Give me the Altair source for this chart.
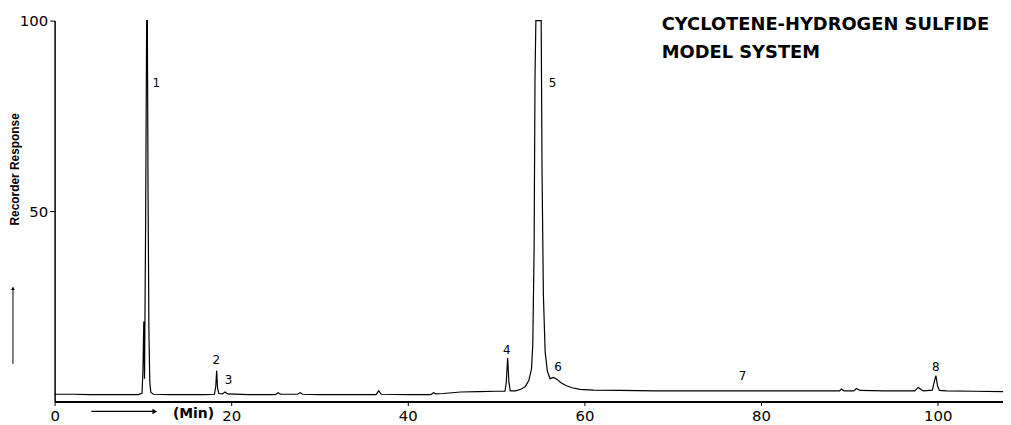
import altair as alt
import pandas as pd

# ---- chromatogram trace (retention time in min, recorder response) ----
time_min = [0.0, 2.0, 4.0, 6.0, 8.0, 9.5, 9.9, 10.0, 10.1, 10.18, 10.3, 10.42, 10.5, 10.58,
            10.68, 10.78, 10.9, 11.2, 13.0, 15.0, 17.0, 18.1, 18.25, 18.35, 18.45, 18.6,
            19.0, 19.3, 19.6, 22.0, 25.0, 25.3, 25.6, 27.5, 27.8, 28.1, 30.0, 33.0, 36.4,
            36.7, 37.0, 40.0, 42.6, 42.9, 43.2, 44.0, 46.0, 48.0, 50.0, 51.0, 51.15, 51.3,
            51.45, 51.6, 52.2, 52.8, 53.3, 53.7, 54.0, 54.15, 54.3, 54.4, 54.5, 55.1, 55.2,
            55.35, 55.55, 55.8, 56.1, 56.5, 56.9, 57.3, 57.9, 58.6, 59.5, 61.0, 64.0, 68.0,
            72.0, 76.0, 80.0, 85.0, 88.9, 89.1, 89.4, 90.5, 90.8, 91.2, 94.0, 97.4, 97.8,
            98.2, 98.4, 99.4, 99.6, 99.8, 100.0, 100.2, 101.0, 104.0, 107.4]
response = [1.9, 1.9, 1.8, 1.8, 1.8, 1.8, 2.2, 8.0, 21.0, 6.0, 45.0, 100.0, 100.0, 55.0,
            18.0, 5.0, 2.4, 1.9, 1.8, 1.8, 1.8, 1.9, 4.0, 8.1, 3.5, 2.1,
            2.0, 2.5, 2.0, 1.8, 1.8, 2.3, 1.9, 1.9, 2.3, 1.9, 1.8, 1.8, 1.8,
            2.8, 1.9, 1.8, 1.8, 2.3, 2.0, 2.1, 2.5, 2.6, 2.7, 2.7, 5.0, 11.5,
            5.0, 2.8, 2.8, 3.2, 3.9, 5.5, 8.5, 15.0, 40.0, 85.0, 100.0, 100.0, 60.0,
            28.0, 13.0, 8.0, 6.0, 6.3, 5.8, 5.0, 4.2, 3.6, 3.2, 3.0, 2.9, 2.8,
            2.8, 2.8, 2.8, 2.8, 2.8, 3.3, 2.8, 2.8, 3.4, 2.9, 2.8, 2.8, 3.7,
            3.0, 2.8, 3.0, 5.0, 6.8, 4.0, 2.9, 2.8, 2.7, 2.6]

# ---- peak numbers ----
peak_labels = ["1", "2", "3", "4", "5", "6", "7", "8"]
peak_label_time = [11.5, 18.3, 19.7, 51.2, 56.4, 57.0, 77.9, 99.8]
peak_label_resp = [83.6, 10.9, 5.7, 13.5, 83.6, 9.1, 6.8, 9.1]

# ---- axes / texts ----
x_tick_values = [0, 20, 40, 60, 80, 100]
y_tick_values = [50, 100]
title_lines = ["CYCLOTENE-HYDROGEN SULFIDE", "MODEL SYSTEM"]
y_title = "Recorder Response"
x_unit = "(Min)"

trace = pd.DataFrame({"t": time_min, "r": response})
labels = pd.DataFrame({"t": peak_label_time, "r": peak_label_resp, "label": peak_labels})
one = pd.DataFrame({"k": [0]})

x_scale = alt.Scale(domain=[0, 107.4], nice=False, zero=False)
y_scale = alt.Scale(domain=[0, 100], nice=False)

line = alt.Chart(trace).mark_line(color="black", strokeWidth=1.2).encode(
    x=alt.X("t:Q", scale=x_scale,
            axis=alt.Axis(values=x_tick_values, title=None, grid=False, labelFontSize=15,
                          labelFont="DejaVu Sans", labelColor="black", tickSize=4,
                          tickColor="black", domainColor="black", domainWidth=2,
                          labelPadding=3, labelFlush=False, format="d")),
    y=alt.Y("r:Q", scale=y_scale,
            axis=alt.Axis(values=y_tick_values, title=None, grid=False, labelFontSize=15,
                          labelFont="DejaVu Sans", labelColor="black", tickSize=5,
                          tickColor="black", domainColor="black", domainWidth=1.5,
                          labelPadding=2, format="d")),
)

peak_text = alt.Chart(labels).mark_text(fontSize=12, font="DejaVu Sans", color="black",
                                        align="center", baseline="middle").encode(
    x=alt.X("t:Q", scale=x_scale), y=alt.Y("r:Q", scale=y_scale), text="label:N")

title1 = alt.Chart(one).mark_text(fontSize=18, font="DejaVu Sans", fontWeight="bold",
                                  color="black", align="left", baseline="middle").encode(
    x=alt.value(612), y=alt.value(5), text=alt.value(title_lines[0]))
title2 = alt.Chart(one).mark_text(fontSize=18, font="DejaVu Sans", fontWeight="bold",
                                  color="black", align="left", baseline="middle").encode(
    x=alt.value(612), y=alt.value(33), text=alt.value(title_lines[1]))

ytitle = alt.Chart(one).mark_text(fontSize=12, font="Liberation Sans", fontWeight="bold",
                                  color="black", angle=270, align="center",
                                  baseline="middle").encode(
    x=alt.value(-40), y=alt.value(150), text=alt.value(y_title))

marker_bar = alt.Chart(one).mark_rule(color="black", strokeWidth=1).encode(
    x=alt.value(-42), y=alt.value(269), y2=alt.value(346))
marker_head = alt.Chart(one).mark_point(shape="triangle-up", filled=True, size=14,
                                        color="black", opacity=1).encode(
    x=alt.value(-42), y=alt.value(270))

arrow_line = alt.Chart(one).mark_rule(color="black", strokeWidth=1.2).encode(
    x=alt.value(37), x2=alt.value(100), y=alt.value(394))
arrow_head = alt.Chart(one).mark_point(shape="triangle-right", filled=True, size=30,
                                       color="black", opacity=1).encode(
    x=alt.value(101), y=alt.value(394))
unit_text = alt.Chart(one).mark_text(fontSize=14, font="DejaVu Sans", fontWeight="bold",
                                     color="black", align="center",
                                     baseline="middle").encode(
    x=alt.value(140), y=alt.value(397), text=alt.value(x_unit))

chart = alt.layer(line, peak_text, title1, title2, ytitle, marker_bar, marker_head,
                  arrow_line, arrow_head, unit_text).properties(
    width=956, height=384,
    padding={"left": 47, "top": 11, "right": 0, "bottom": 22},
    autosize=alt.AutoSizeParams(type="none"),
    background="white",
).configure_view(stroke=None)

chart.save("out.html", embed_options={"renderer": "svg", "actions": False})
